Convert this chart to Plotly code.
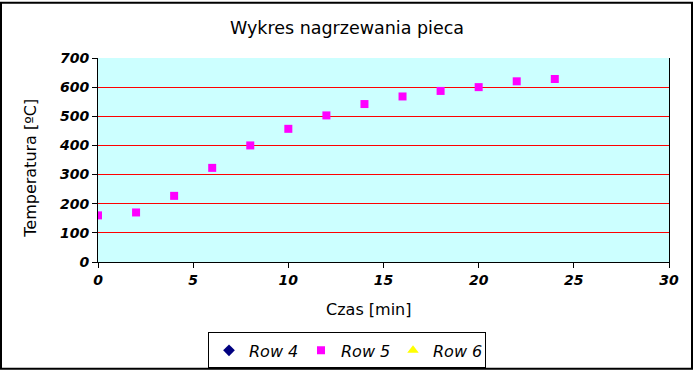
import plotly.graph_objects as go

time_min = [0, 2, 4, 6, 8, 10, 12, 14, 16, 18, 20, 22, 24]
temp_row5 = [160, 170, 227, 323, 400, 457, 503, 542, 568, 587, 600, 620, 628]
series_names = ["Row 4", "Row 5", "Row 6"]
x_ticks = [0, 5, 10, 15, 20, 25, 30]
y_ticks = [0, 100, 200, 300, 400, 500, 600, 700]

W, H = 694, 380
L, R, T, B = 98, 25, 58, 112
PW, PH = W - L - R, H - T - B

fig = go.Figure()
fig.add_trace(go.Scatter(x=[None], y=[None], mode="markers", name=series_names[0],
                         marker=dict(symbol="diamond", color="#000080", size=9)))
fig.add_trace(go.Scatter(x=time_min, y=temp_row5, mode="markers", name=series_names[1],
                         marker=dict(symbol="square", color="#ff00ff", size=8)))
fig.add_trace(go.Scatter(x=[None], y=[None], mode="markers", name=series_names[2],
                         marker=dict(symbol="triangle-up", color="#ffff00", size=10)))

tickfont = dict(family="DejaVu Sans", size=14, color="black", weight="bold", style="italic")

fig.update_layout(
    width=W, height=H,
    margin=dict(l=L, r=R, t=T, b=B),
    paper_bgcolor="white",
    plot_bgcolor="#ccffff",
    title=dict(text="Wykres nagrzewania pieca", x=0.5, xref="container", xanchor="center",
               y=1 - 27.5 / H, yref="container", yanchor="middle",
               font=dict(family="DejaVu Sans", size=17.5, color="black")),
    xaxis=dict(range=[0, 30], tickvals=x_ticks, showgrid=False, zeroline=False,
               showline=True, linecolor="black", linewidth=1,
               ticks="outside", ticklen=5, tickcolor="black", tickfont=tickfont),
    yaxis=dict(range=[0, 700], tickvals=y_ticks, showgrid=True, gridcolor="#ff0000", gridwidth=1,
               zeroline=False, showline=True, linecolor="black", linewidth=1, mirror=True,
               ticks="outside", ticklen=5, tickcolor="black", tickfont=tickfont),
    showlegend=True,
    legend=dict(orientation="h", x=(347 - L) / PW, xanchor="center",
                y=(268 - 359) / PH, yanchor="middle",
                bordercolor="black", borderwidth=1, bgcolor="white",
                font=dict(family="DejaVu Sans", size=16, color="black", style="italic"),
                itemwidth=30, tracegroupgap=0, entrywidth=47),
    annotations=[
        dict(text="Czas [min]", xref="paper", yref="paper", x=(368 - L) / PW, y=(268 - 317) / PH,
             showarrow=False, xanchor="center", yanchor="middle",
             font=dict(family="DejaVu Sans", size=16, color="black")),
        dict(text="Temperatura [ºC]", xref="paper", yref="paper", x=(31 - L) / PW, y=(268 - 172) / PH,
             showarrow=False, xanchor="center", yanchor="middle", textangle=-90,
             font=dict(family="DejaVu Sans", size=16, color="black")),
    ],
    shapes=[dict(type="rect", xref="paper", yref="paper",
                 x0=(1 - L) / PW, x1=(692 - L) / PW,
                 y0=(268 - 378) / PH, y1=(268 - 1) / PH,
                 line=dict(color="black", width=2), layer="below")],
)

fig.write_html("out.html", config={"displayModeBar": False},
               post_script="document.body.style.margin='0';document.body.style.overflow='hidden';")
